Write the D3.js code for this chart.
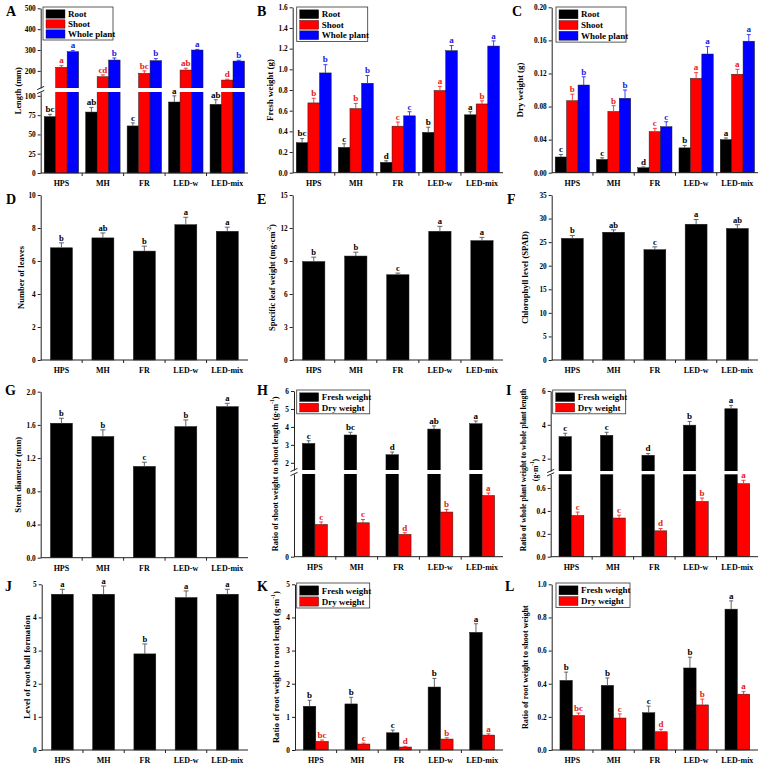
<!DOCTYPE html>
<html><head><meta charset="utf-8">
<script src="https://cdn.jsdelivr.net/npm/d3@7"></script>
<style>
body{margin:0;background:#fff}
svg{display:block}
text{font-family:"Liberation Serif","Times New Roman",serif;font-weight:bold}
</style>
</head><body>
<svg id="chart" width="770" height="771"></svg>
<script>
const categories = ["HPS","MH","FR","LED-w","LED-mix"];

// A: Length (mm)
const lengthRoot = [73,79,61,92,89];
const lengthRootErr = [3,6,4,8,6];
const lengthRootSig = ["bc","ab","c","a","ab"];
const lengthShoot = [217,172,188,204,156];
const lengthShootErr = [8,9,12,9,4];
const lengthShootSig = ["a","cd","bc","ab","d"];
const lengthWhole = [292,252,249,300,247];
const lengthWholeErr = [5,10,10,3,4];
const lengthWholeSig = ["a","b","b","a","b"];
const lengthTicksLow = [0,25,50,75,100];
const lengthTicksHigh = [200,300,400,500];

// B: Fresh weight (g)
const fwRoot = [0.29,0.245,0.10,0.39,0.56];
const fwRootErr = [0.04,0.035,0.015,0.05,0.03];
const fwRootSig = ["bc","c","d","b","a"];
const fwShoot = [0.675,0.62,0.45,0.795,0.665];
const fwShootErr = [0.045,0.05,0.04,0.04,0.03];
const fwShootSig = ["b","b","c","a","b"];
const fwWhole = [0.965,0.865,0.55,1.18,1.225];
const fwWholeErr = [0.08,0.075,0.04,0.05,0.05];
const fwWholeSig = ["b","b","c","a","a"];
const fwTicks = [0,0.2,0.4,0.6,0.8,1.0,1.2,1.4,1.6];

// C: Dry weight (g)
const dwRoot = [0.019,0.016,0.006,0.030,0.040];
const dwRootErr = [0.003,0.002,0.001,0.003,0.002];
const dwRootSig = ["c","c","d","b","a"];
const dwShoot = [0.087,0.074,0.0496,0.114,0.119];
const dwShootErr = [0.008,0.007,0.004,0.007,0.006];
const dwShootSig = ["b","b","c","a","a"];
const dwWhole = [0.106,0.09,0.0556,0.1435,0.159];
const dwWholeErr = [0.010,0.010,0.006,0.009,0.008];
const dwWholeSig = ["b","b","c","a","a"];
const dwTicks = [0,0.04,0.08,0.12,0.16,0.20];

// D: Number of leaves
const leaves = [6.8,7.4,6.6,8.2,7.8];
const leavesErr = [0.3,0.3,0.3,0.45,0.25];
const leavesSig = ["b","ab","b","a","a"];
const leavesTicks = [0,2,4,6,8,10];

// E: Specific leaf weight
const slw = [8.95,9.45,7.75,11.7,10.85];
const slwErr = [0.4,0.35,0.15,0.45,0.3];
const slwSig = ["b","b","c","a","a"];
const slwTicks = [0,3,6,9,12,15];

// F: Chlorophyll (SPAD)
const spad = [25.8,27.1,23.4,28.8,27.9];
const spadErr = [0.6,0.5,0.6,1.0,0.8];
const spadSig = ["b","ab","c","a","ab"];
const spadTicks = [0,5,10,15,20,25,30,35];

// G: Stem diameter (mm)
const stem = [1.62,1.46,1.10,1.58,1.82];
const stemErr = [0.06,0.08,0.05,0.08,0.04];
const stemSig = ["b","b","c","b","a"];
const stemTicks = [0,0.4,0.8,1.2,1.6,2.0];

// H: Shoot weight / shoot length
const srFresh = [3.08,3.55,2.45,3.88,4.18];
const srFreshErr = [0.15,0.15,0.15,0.18,0.15];
const srFreshSig = ["c","bc","d","ab","a"];
const srDry = [0.39,0.41,0.27,0.54,0.74];
const srDryErr = [0.03,0.04,0.02,0.03,0.03];
const srDrySig = ["c","c","d","b","a"];
const srTicksLow = [0];
const srTicksHigh = [2,3,4,5,6];

// I: Whole plant weight / whole plant length
const wrFresh = [3.30,3.38,2.20,3.98,4.95];
const wrFreshErr = [0.2,0.18,0.1,0.22,0.2];
const wrFreshSig = ["c","c","d","b","a"];
const wrDry = [0.36,0.338,0.226,0.483,0.638];
const wrDryErr = [0.03,0.025,0.02,0.03,0.03];
const wrDrySig = ["c","c","d","b","a"];
const wrTicksLow = [0,0.2,0.4,0.6];
const wrTicksHigh = [2,4,6];

// J: Level of root ball formation
const rootBall = [4.7,4.7,2.9,4.6,4.7];
const rootBallErr = [0.15,0.25,0.3,0.2,0.15];
const rootBallSig = ["a","a","b","a","a"];
const rootBallTicks = [0,1,2,3,4,5];

// K: Root weight / root length
const rrFresh = [1.32,1.39,0.52,1.90,3.55];
const rrFreshErr = [0.18,0.2,0.08,0.26,0.26];
const rrFreshSig = ["b","b","c","b","a"];
const rrDry = [0.26,0.18,0.09,0.33,0.45];
const rrDryErr = [0.04,0.03,0.02,0.04,0.04];
const rrDrySig = ["bc","c","d","b","a"];
const rrTicks = [0,1,2,3,4,5];

// L: Root weight / shoot weight
const rsFresh = [0.42,0.39,0.225,0.495,0.85];
const rsFreshErr = [0.05,0.045,0.04,0.065,0.05];
const rsFreshSig = ["b","b","c","b","a"];
const rsDry = [0.208,0.193,0.11,0.272,0.337];
const rsDryErr = [0.015,0.025,0.015,0.035,0.015];
const rsDrySig = ["bc","c","d","b","a"];
const rsTicks = [0,0.2,0.4,0.6,0.8,1.0];

const legendRSW = ["Root","Shoot","Whole plant"];
const legendFD = ["Fresh weight","Dry weight"];

// ---------- styling ----------
const BLACK = "#000000", RED = "#ff0000", BLUE = "#0000ff";
const LET_RED = "#e81818", LET_BLUE = "#2020e0";
const ERR_COL = {[BLACK]:"#555", [RED]:"#ff2a2a", [BLUE]:"#2a2aff"};
const ser = (v,e,s,c,lc)=>({v,e,s,c,lc});

const panels = [
 {id:"A", x0:40.7,x1:248,y0:8.3,y1:173, lab:[6,16],
  broken:{low:[0,105],high:[118,500],lowTop:92,highBottom:88,tl:lengthTicksLow,th:lengthTicksHigh,fl:d3.format("d"),fh:d3.format("d")},
  series:[ser(lengthRoot,lengthRootErr,lengthRootSig,BLACK,BLACK),ser(lengthShoot,lengthShootErr,lengthShootSig,RED,LET_RED),ser(lengthWhole,lengthWholeErr,lengthWholeSig,BLUE,LET_BLUE)],
  group:0.83, title:["Length (mm)"], tx:[18], tlen:47,
  legend:{x:43,y:7,w:70,rowH:10,names:legendRSW}},
 {id:"B", x0:292.7,x1:503,y0:7.3,y1:172.7, lab:[257,16],
  domain:[0,1.6], ticks:fwTicks, fmt:d3.format(".1f"),
  series:[ser(fwRoot,fwRootErr,fwRootSig,BLACK,BLACK),ser(fwShoot,fwShootErr,fwShootSig,RED,LET_RED),ser(fwWhole,fwWholeErr,fwWholeSig,BLUE,LET_BLUE)],
  group:0.83, title:["Fresh weight (g)"], tx:[270], tlen:62,
  legend:{x:296.7,y:7,w:71,rowH:10.5,names:legendRSW}},
 {id:"C", x0:551.7,x1:758,y0:7.3,y1:172.7, lab:[512,16],
  domain:[0,0.2], ticks:dwTicks, fmt:d3.format(".2f"),
  series:[ser(dwRoot,dwRootErr,dwRootSig,BLACK,BLACK),ser(dwShoot,dwShootErr,dwShootSig,RED,LET_RED),ser(dwWhole,dwWholeErr,dwWholeSig,BLUE,LET_BLUE)],
  group:0.83, title:["Dry weight (g)"], tx:[520], tlen:55,
  legend:{x:556,y:7,w:70,rowH:10.7,names:legendRSW}},
 {id:"D", x0:40.7,x1:248,y0:195,y1:360, lab:[6,204],
  domain:[0,10], ticks:leavesTicks, fmt:d3.format("d"),
  series:[ser(leaves,leavesErr,leavesSig,BLACK,BLACK)],
  group:0.53, title:["Number of leaves"], tx:[21], tlen:63},
 {id:"E", x0:292.7,x1:503,y0:195,y1:360, lab:[257,204],
  domain:[0,15], ticks:slwTicks, fmt:d3.format("d"),
  series:[ser(slw,slwErr,slwSig,BLACK,BLACK)],
  group:0.53, title:[["Specific leaf weight (mg·cm","-2",")"]], tx:[272], tlen:107},
 {id:"F", x0:551.7,x1:758,y0:195,y1:360, lab:[507,204],
  domain:[0,35], ticks:spadTicks, fmt:d3.format("d"),
  series:[ser(spad,spadErr,spadSig,BLACK,BLACK)],
  group:0.53, title:["Chlorophyll level (SPAD)"], tx:[525], tlen:93},
 {id:"G", x0:40.7,x1:248,y0:391.7,y1:557.7, lab:[5,395],
  domain:[0,2.0], ticks:stemTicks, fmt:d3.format(".1f"),
  series:[ser(stem,stemErr,stemSig,BLACK,BLACK)],
  group:0.53, title:["Stem diameter (mm)"], tx:[18], tlen:76},
 {id:"H", x0:294,x1:503,y0:391,y1:556.7, lab:[257,395],
  broken:{low:[0,1.0],high:[1.6,6],lowTop:474,highBottom:470,tl:srTicksLow,th:srTicksHigh,fl:d3.format("d"),fh:d3.format("d")},
  series:[ser(srFresh,srFreshErr,srFreshSig,BLACK,BLACK),ser(srDry,srDryErr,srDrySig,RED,LET_RED)],
  group:0.60, title:[["Ratio of shoot weight to shoot length (g·m","-1",")"]], tx:[275], tlen:155,
  legend:{x:296.7,y:390,w:73,rowH:10.4,names:legendFD}},
 {id:"I", x0:550.7,x1:758,y0:391,y1:556.7, lab:[506,395],
  broken:{low:[0,0.72],high:[1.27,6],lowTop:474.3,highBottom:471,tl:wrTicksLow,th:wrTicksHigh,fl:d3.format(".1f"),fh:d3.format("d")},
  series:[ser(wrFresh,wrFreshErr,wrFreshSig,BLACK,BLACK),ser(wrDry,wrDryErr,wrDrySig,RED,LET_RED)],
  group:0.60, title:["Ratio of whole plant weight to whole plant length",["(g·m","-1",")"]], tx:[523,535], tlen:163, tcy:470,
  legend:{x:552.7,y:390,w:73,rowH:10.4,names:legendFD}},
 {id:"J", x0:41.7,x1:248,y0:584.3,y1:750, lab:[5,591],
  domain:[0,5], ticks:rootBallTicks, fmt:d3.format("d"),
  series:[ser(rootBall,rootBallErr,rootBallSig,BLACK,BLACK)],
  group:0.53, title:["Level of root ball formation"], tx:[27], tlen:104},
 {id:"K", x0:295,x1:503,y0:584.3,y1:750, lab:[257,591],
  domain:[0,5], ticks:rrTicks, fmt:d3.format("d"),
  series:[ser(rrFresh,rrFreshErr,rrFreshSig,BLACK,BLACK),ser(rrDry,rrDryErr,rrDrySig,RED,LET_RED)],
  group:0.60, title:[["Ratio of root weight to root length (g·m","-1",")"]], tx:[276], tlen:152,
  legend:{x:296.7,y:583,w:73,rowH:11,names:legendFD}},
 {id:"L", x0:551.7,x1:758,y0:584.3,y1:750, lab:[505,591],
  domain:[0,1.0], ticks:rsTicks, fmt:d3.format(".1f"),
  series:[ser(rsFresh,rsFreshErr,rsFreshSig,BLACK,BLACK),ser(rsDry,rsDryErr,rsDrySig,RED,LET_RED)],
  group:0.60, title:["Ratio of root weight to shoot weight"], tx:[525], tlen:124,
  legend:{x:556,y:583,w:74,rowH:10.7,names:legendFD}}
];

const svg = d3.select("#chart");
svg.append("rect").attr("width",770).attr("height",771).attr("fill","#fff");

function addTitleText(g, parts, x, cy, fs){
  const t = g.append("text").attr("transform",`translate(${x},${cy}) rotate(-90)`)
    .attr("text-anchor","middle").attr("dominant-baseline","central")
    .attr("font-size",fs).attr("fill","#000");
  if(typeof parts === "string"){ t.text(parts); }
  else {
    t.append("tspan").text(parts[0]);
    t.append("tspan").attr("font-size",fs*0.65).attr("dy",-fs*0.38).text(parts[1]);
    t.append("tspan").attr("dy",fs*0.38).text(parts[2]);
  }
  return t;
}

panels.forEach(p=>{
  const g = svg.append("g");
  const x = d3.scaleBand().domain(categories).range([p.x0,p.x1]).paddingInner(0).paddingOuter(0);
  let yf, axes=[];
  if(p.broken){
    const b=p.broken;
    const lo=d3.scaleLinear().domain(b.low).range([p.y1,b.lowTop]);
    const hi=d3.scaleLinear().domain(b.high).range([b.highBottom,p.y0]);
    yf = v => v<=b.low[1] ? lo(v) : hi(v);
    axes.push({s:lo,t:b.tl,f:b.fl},{s:hi,t:b.th,f:b.fh});
  } else {
    const s=d3.scaleLinear().domain(p.domain).range([p.y1,p.y0]);
    yf = s; axes.push({s,t:p.ticks,f:p.fmt});
  }
  const n=p.series.length;
  const groupW=x.bandwidth()*p.group, bw=groupW/n;
  const off=(x.bandwidth()-groupW)/2;
  const cap = n===1?5:4;

  // bars
  p.series.forEach((s,i)=>{
    categories.forEach((c,k)=>{
      const bx=x(c)+off+i*bw;
      const top=yf(s.v[k]);
      g.append("rect").attr("x",bx).attr("y",top).attr("width",bw).attr("height",p.y1-top)
        .attr("fill",s.c).attr("stroke","#1a1a1a").attr("stroke-width",0.5);
    });
  });
  // break gap
  if(p.broken){
    g.append("rect").attr("x",p.x0+0.6).attr("y",p.broken.highBottom).attr("width",p.x1-p.x0)
      .attr("height",p.broken.lowTop-p.broken.highBottom).attr("fill","#fff");
  }
  // error bars + letters
  p.series.forEach((s,i)=>{
    categories.forEach((c,k)=>{
      const cx=x(c)+off+i*bw+bw/2;
      const top=yf(s.v[k]), et=yf(s.v[k]+s.e[k]);
      const ec=ERR_COL[s.c];
      g.append("line").attr("x1",cx).attr("x2",cx).attr("y1",top).attr("y2",et).attr("stroke",ec).attr("stroke-width",0.9);
      g.append("line").attr("x1",cx-cap/2).attr("x2",cx+cap/2).attr("y1",et).attr("y2",et).attr("stroke",ec).attr("stroke-width",0.9);
      g.append("text").attr("x",cx).attr("y",et-2.2).attr("text-anchor","middle")
        .attr("font-size",n===1?8.5:9).attr("fill",s.lc).text(s.s[k]);
    });
  });
  // y axes
  axes.forEach(a=>{
    const ax=g.append("g").attr("transform",`translate(${p.x0},0)`)
      .call(d3.axisLeft(a.s).tickValues(a.t).tickFormat(a.f).tickSize(3).tickSizeOuter(0).tickPadding(2));
    ax.selectAll("path,line").attr("stroke","#222").attr("stroke-width",1);
    ax.selectAll("text").attr("font-size",7.3).attr("font-family",null).attr("fill","#000");
  });
  // break marks
  if(p.broken){
    [p.broken.highBottom,p.broken.lowTop].forEach(yy=>{
      g.append("line").attr("x1",p.x0-3.5).attr("x2",p.x0+3.5).attr("y1",yy+1.6).attr("y2",yy-1.6)
        .attr("stroke","#222").attr("stroke-width",1);
    });
  }
  // x axis
  g.append("line").attr("x1",p.x0).attr("x2",p.x1).attr("y1",p.y1).attr("y2",p.y1).attr("stroke","#222").attr("stroke-width",1);
  categories.forEach((c,k)=>{
    if(k>0) g.append("line").attr("x1",x(c)).attr("x2",x(c)).attr("y1",p.y1).attr("y2",p.y1+3).attr("stroke","#222").attr("stroke-width",1);
    g.append("text").attr("x",x(c)+x.bandwidth()/2).attr("y",p.y1+13).attr("text-anchor","middle")
      .attr("font-size",8).attr("fill","#000").text(c);
  });
  // y title(s), sized to the reference's printed length
  const cy = p.tcy || (p.y0+p.y1)/2;
  const probe = addTitleText(g,p.title[0],p.tx[0],cy,9);
  const fs = 9*p.tlen/probe.node().getComputedTextLength();
  probe.remove();
  p.title.forEach((tt,j)=>{ addTitleText(g,tt,p.tx[j],cy,fs); });
  // panel label
  g.append("text").attr("x",p.lab[0]).attr("y",p.lab[1]).attr("font-size",14).attr("fill","#000").text(p.id);
  // legend
  if(p.legend){
    const L=p.legend, h=L.names.length*L.rowH+3;
    g.append("rect").attr("x",L.x).attr("y",L.y).attr("width",L.w).attr("height",h)
      .attr("fill","#fff").attr("stroke","#333").attr("stroke-width",0.8);
    L.names.forEach((nm,i)=>{
      const cyy=L.y+2+L.rowH*(i+0.5);
      g.append("rect").attr("x",L.x+3).attr("y",cyy-L.rowH*0.42).attr("width",19).attr("height",L.rowH*0.84)
        .attr("fill",p.series[i].c).attr("stroke","#1a1a1a").attr("stroke-width",0.4);
      g.append("text").attr("x",L.x+25).attr("y",cyy).attr("dominant-baseline","central")
        .attr("font-size",9).attr("fill","#000").text(nm);
    });
  }
});
</script>
</body></html>
